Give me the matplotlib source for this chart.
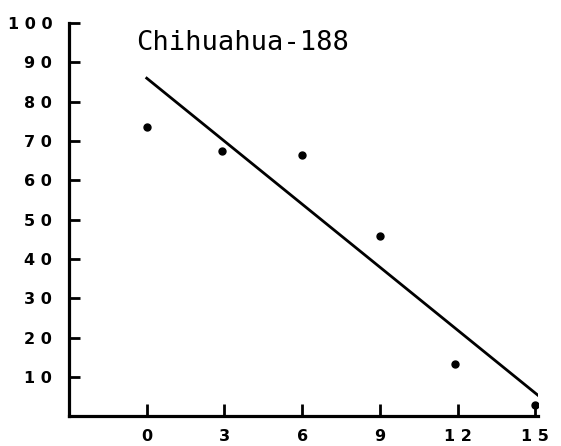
import matplotlib
matplotlib.use("Agg")
import matplotlib.pyplot as plt

# data
weeks = [0, 2.9, 6, 9, 11.9, 15]
values = [73.5, 67.5, 66.5, 45.8, 13.2, 2.8]
fit_x = [0, 15.1]
fit_y = [86, 5.3]
xticks = [0, 3, 6, 9, 12, 15]
xlabels = ["0", "3", "6", "9", "1 2", "1 5"]
yticks = [10, 20, 30, 40, 50, 60, 70, 80, 90, 100]
ylabels = ["1 0", "2 0", "3 0", "4 0", "5 0", "6 0", "7 0", "8 0", "9 0", "1 0 0"]

fig = plt.figure(figsize=(5.61, 4.46), dpi=100)
ax = fig.add_axes([0.123, 0.067, 0.836, 0.881])

ax.plot(fit_x, fit_y, color="black", lw=2.0)
ax.plot(weeks, values, "o", color="black", ms=5)

ax.set_xlim(-3, 15.1)
ax.set_ylim(0, 100)
ax.spines["top"].set_visible(False)
ax.spines["right"].set_visible(False)
for s in ["left", "bottom"]:
    ax.spines[s].set_linewidth(2.3)

ax.set_xticks(xticks)
ax.set_xticklabels(xlabels, fontfamily="DejaVu Sans", fontweight="bold", fontsize=11.5)
ax.set_yticks(yticks)
ax.set_yticklabels(ylabels, fontfamily="DejaVu Sans", fontweight="bold", fontsize=11.5)
ax.tick_params(axis="x", direction="in", length=9, width=2, pad=9)
ax.tick_params(axis="y", direction="in", length=8, width=2, pad=12)

ax.text(-0.4, 95, "Chihuahua-188", fontfamily="DejaVu Sans Mono", fontsize=19.5,
        va="center", ha="left")

fig.savefig("out.png", dpi=100)
